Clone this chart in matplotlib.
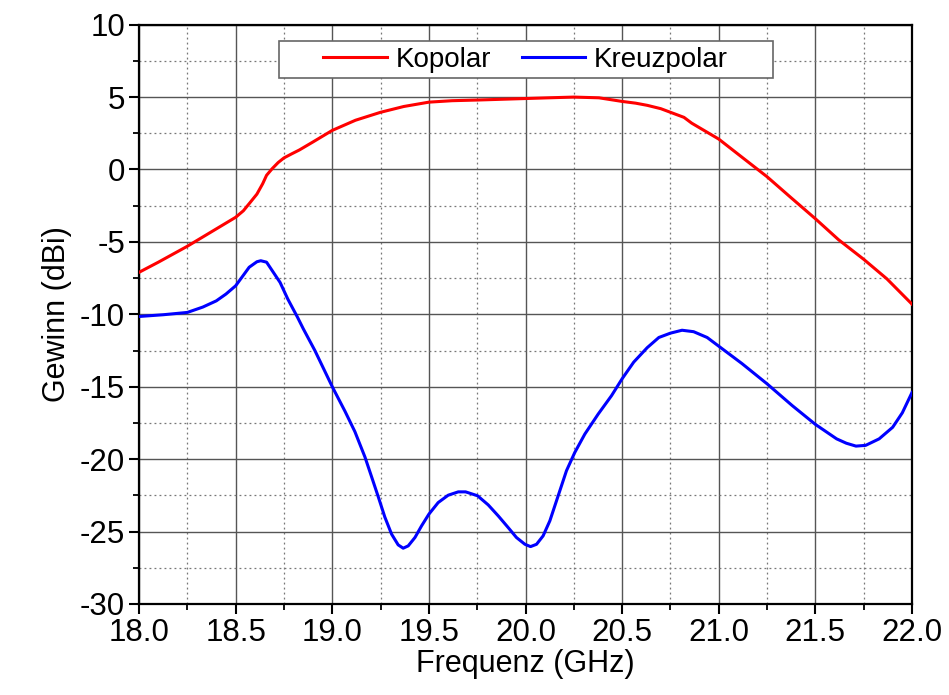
import matplotlib
matplotlib.use("Agg")
import matplotlib.pyplot as plt
from matplotlib.patches import Rectangle
from matplotlib.ticker import MultipleLocator, FormatStrFormatter

plt.rcParams['font.family'] = ['Liberation Sans', 'DejaVu Sans']
plt.rcParams['axes.unicode_minus'] = False

# Co-polar gain (dBi) vs frequency (GHz)
freq_ko = [18.0, 18.1, 18.25, 18.4, 18.5, 18.54, 18.57, 18.61, 18.64, 18.66,
           18.69, 18.72, 18.75, 18.79, 18.83, 18.9, 19.0, 19.12, 19.25, 19.37,
           19.5, 19.62, 19.76, 19.88, 20.0, 20.12, 20.25, 20.38, 20.5, 20.57,
           20.63, 20.7, 20.75, 20.82, 20.86, 20.93, 21.0, 21.12, 21.25, 21.37,
           21.5, 21.62, 21.75, 21.87, 22.0]
gain_ko = [-7.1, -6.4, -5.3, -4.1, -3.3, -2.85, -2.36, -1.7, -0.98, -0.4,
           0.07, 0.48, 0.8, 1.08, 1.35, 1.9, 2.7, 3.4, 3.95, 4.35,
           4.65, 4.75, 4.8, 4.85, 4.9, 4.95, 5.0, 4.95, 4.7, 4.58,
           4.43, 4.2, 3.95, 3.6, 3.2, 2.65, 2.1, 0.85, -0.5, -1.9,
           -3.4, -4.85, -6.2, -7.55, -9.3]

# Cross-polar gain (dBi) vs frequency (GHz)
freq_kr = [18.0, 18.125, 18.25, 18.33, 18.4, 18.45, 18.5, 18.54, 18.57, 18.61,
           18.63, 18.66, 18.69, 18.73, 18.77, 18.82, 18.85, 18.91, 19.0, 19.066,
           19.117, 19.169, 19.203, 19.238, 19.272, 19.307, 19.341, 19.367, 19.393, 19.428,
           19.462, 19.5, 19.548, 19.6, 19.652, 19.69, 19.752, 19.807, 19.859, 19.91,
           19.953, 19.997, 20.026, 20.057, 20.091, 20.126, 20.169, 20.212, 20.255, 20.307,
           20.376, 20.445, 20.5, 20.56, 20.63, 20.69, 20.75, 20.81, 20.87, 20.94,
           21.0, 21.12, 21.25, 21.38, 21.5, 21.61, 21.66, 21.71, 21.76, 21.83,
           21.9, 21.95, 22.0]
gain_kr = [-10.15, -10.03, -9.87, -9.5, -9.07, -8.6, -8.03, -7.3, -6.75, -6.37,
           -6.3, -6.4, -7.0, -7.8, -8.95, -10.2, -11.0, -12.5, -15.0, -16.7,
           -18.1, -19.85, -21.2, -22.6, -24.0, -25.18, -25.92, -26.15, -25.99, -25.41,
           -24.61, -23.8, -23.0, -22.49, -22.26, -22.26, -22.53, -23.16, -23.92, -24.72,
           -25.41, -25.88, -26.04, -25.88, -25.3, -24.26, -22.53, -20.8, -19.54, -18.27,
           -16.89, -15.62, -14.45, -13.3, -12.3, -11.6, -11.3, -11.1, -11.2, -11.6,
           -12.2, -13.4, -14.8, -16.3, -17.6, -18.6, -18.9, -19.1, -19.05, -18.6,
           -17.8, -16.8, -15.4]

labels = ["Kopolar", "Kreuzpolar"]

fig = plt.figure(figsize=(9.49, 6.95), dpi=100)
ax = fig.add_axes([0.1465, 0.131, 0.8145, 0.8335])

ax.plot(freq_ko, gain_ko, color="#ff0000", lw=2.2, label=labels[0], zorder=4,
        solid_joinstyle="round")
ax.plot(freq_kr, gain_kr, color="#0000ff", lw=2.2, label=labels[1], zorder=4,
        solid_joinstyle="round")

ax.set_xlim(18.0, 22.0)
ax.set_ylim(-30, 10)
ax.xaxis.set_major_locator(MultipleLocator(0.5))
ax.xaxis.set_minor_locator(MultipleLocator(0.25))
ax.yaxis.set_major_locator(MultipleLocator(5))
ax.yaxis.set_minor_locator(MultipleLocator(2.5))
ax.xaxis.set_major_formatter(FormatStrFormatter("%.1f"))

ax.grid(which="major", color="#555555", lw=1.0, ls="-", zorder=0)
ax.grid(which="minor", color="#777777", lw=0.9, ls=(0, (1.5, 2.5)), zorder=0)
ax.set_axisbelow(True)

for s in ax.spines.values():
    s.set_linewidth(1.6)
    s.set_color("black")

ax.tick_params(which="major", direction="out", length=7, width=1.5,
               labelsize=22.5, top=False, right=False, pad=3)
ax.tick_params(which="minor", direction="out", length=4.5, width=1.3,
               top=False, right=False)

ax.set_xlabel("Frequenz (GHz)", fontsize=22, labelpad=1)
ax.set_ylabel("Gewinn (dBi)", fontsize=22, labelpad=6)

# Legend frame
ax.add_patch(Rectangle((0.181, 0.9077), 0.639, 0.0638, transform=ax.transAxes,
                       facecolor="white", edgecolor="#666666", lw=1.2, zorder=5))
leg = ax.legend(loc="center", bbox_to_anchor=(0.5, 0.9396), ncol=2, frameon=False,
                fontsize=20, handlelength=2.3, handletextpad=0.3,
                columnspacing=1.1)
leg.set_zorder(6)

fig.savefig("out.png", dpi=100)
